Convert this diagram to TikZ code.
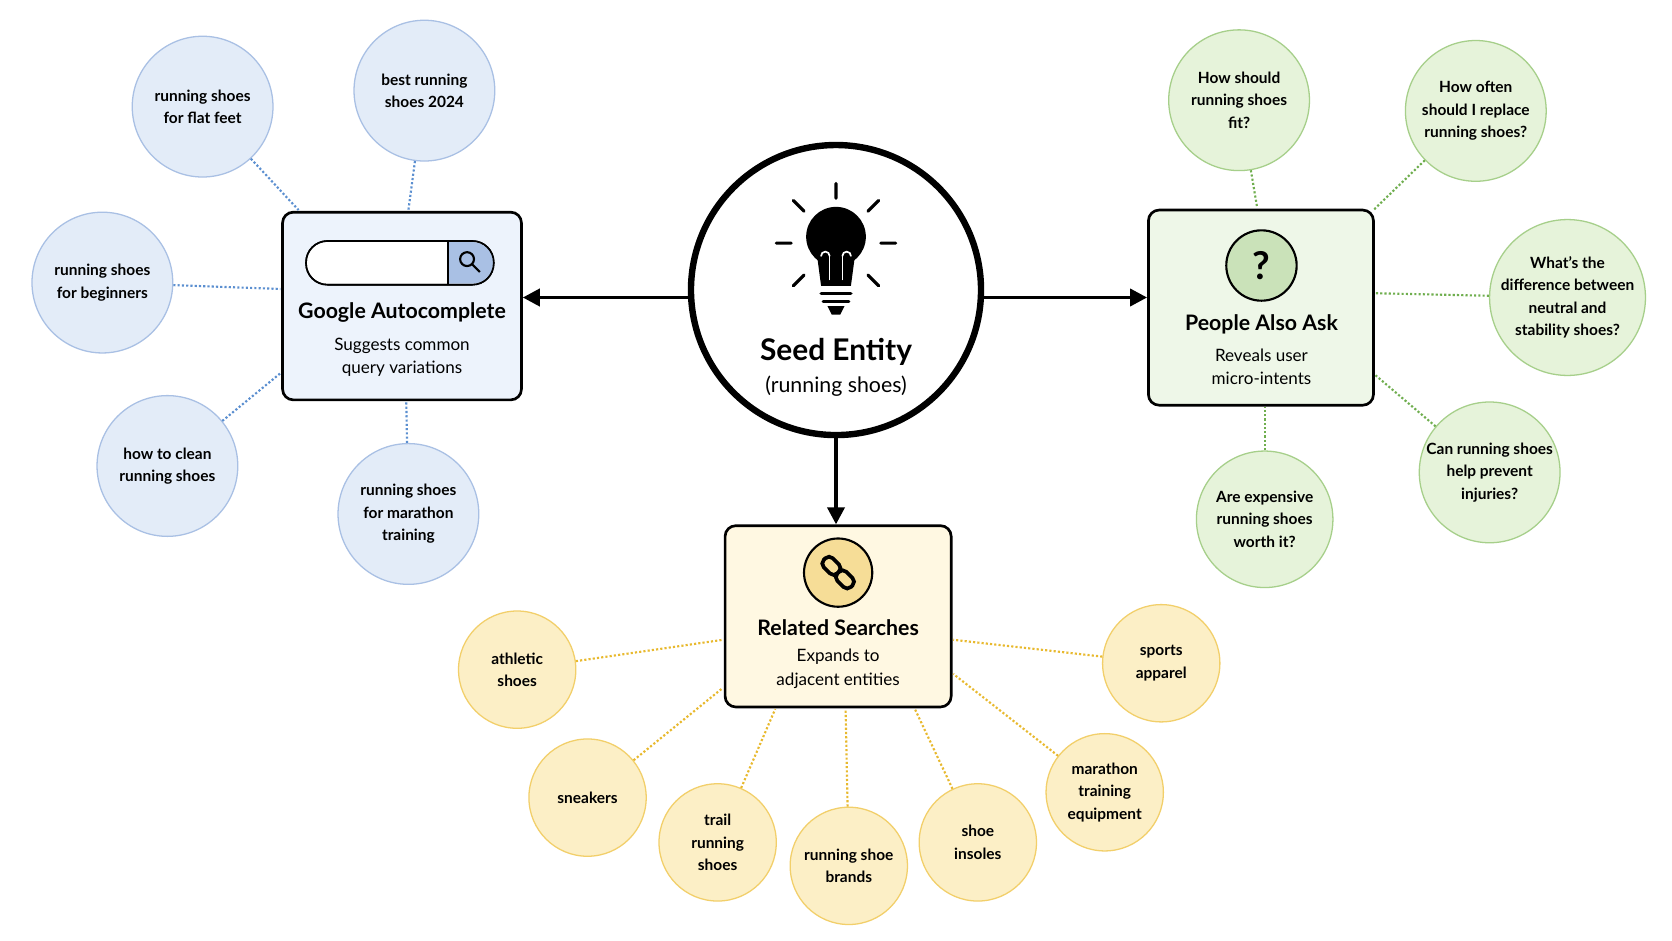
\documentclass[tikz,border=0pt]{standalone}
\usepackage{fontspec}
\setmainfont{Lato}
\usetikzlibrary{arrows.meta}
\definecolor{bfill}{HTML}{E3ECF8}\definecolor{bdraw}{HTML}{A9C0E4}\definecolor{bline}{HTML}{5B8FD0}
\definecolor{gfill}{HTML}{E6F3DA}\definecolor{gdraw}{HTML}{A6CF8A}\definecolor{gline}{HTML}{6FAE4E}
\definecolor{yfill}{HTML}{FCEFC6}\definecolor{ydraw}{HTML}{F2CF6A}\definecolor{yline}{HTML}{E8B92E}
\definecolor{bbox}{HTML}{EDF3FC}\definecolor{gbox}{HTML}{EEF7E8}\definecolor{ybox}{HTML}{FFF8E2}
\begin{document}
\begin{tikzpicture}[x=1pt,y=-1pt,
 leaf/.style={circle,draw,line width=1.2pt,align=center,inner sep=0pt,font=\fontsize{14.5}{21}\selectfont\bfseries},
 bl/.style={leaf,fill=bfill,draw=bdraw,minimum size=132pt},
 gl/.style={leaf,fill=gfill,draw=gdraw,minimum size=132pt},
 yl/.style={leaf,fill=yfill,draw=ydraw,minimum size=110pt},
 hub/.style={draw=black,line width=2.5pt,rounded corners=10pt,inner sep=0pt},
 dots/.style={line width=2pt,dotted},
 arr/.style={line width=3.5pt,-{Triangle[length=16pt,width=16pt]}},
 ttl/.style={font=\fontsize{20}{22}\selectfont\bfseries},
 sub/.style={font=\fontsize{16}{22}\selectfont,align=center}]
\useasboundingbox (0,0) rectangle (1568,882);
\fill[white] (0,0) rectangle (1568,882);
% hubs
\node[hub,fill=bbox,minimum width=224pt,minimum height=176pt] (ga) at (377,287) {};
\node[hub,fill=gbox,minimum width=211pt,minimum height=183pt] (pa) at (1182.5,288.5) {};
\node[hub,fill=ybox,minimum width=212pt,minimum height=170pt] (rs) at (786,578) {};
\node[circle,draw=black,line width=6pt,fill=white,minimum size=272pt] (seed) at (784,272) {};
% arrows
\draw[arr] (seed.west |- 0,279) -- (ga.east |- 0,279);
\draw[arr] (seed.east |- 0,279) -- (pa.west |- 0,279);
\draw[arr] (seed.south) -- (seed.south |- rs.north);
% seed content
\node[font=\fontsize{28}{30}\selectfont\bfseries] (st) at (784,330) {Seed Entity};
\node[font=\fontsize{20}{22}\selectfont] (ss) at (784,362) {(running shoes)};
\begin{scope}[line width=3pt,line cap=round]
 \draw (826,228)--(840,228) (742,228)--(728,228) (784,186)--(784,172) (814,198)--(824,188) (754,198)--(744,188) (814,258)--(824,268) (754,258)--(744,268);
 \fill (784,222) circle (28pt);
 \fill (766,238) -- (802,238) -- (798,268) -- (770,268) -- cycle;
 \draw[white,line width=1.6pt] (778,262) -- (778,240) (790,262) -- (790,240);
 \draw[white,line width=1.6pt] (778,240) arc (0:180:4pt) (790,240) arc (180:0:4pt);
 \draw[line width=3pt] (770,275) -- (798,275) (772,283) -- (796,283);
 \fill (776,287) -- (792,287) -- (788,295) -- (780,295) -- cycle;
\end{scope}
% google content
\draw[line width=1.5pt,fill=white,rounded corners=20pt] (287,226) rectangle (463,267);
\fill[bdraw] (420,227) -- (443,227) arc (90:-90:19.5pt) -- (420,266) -- cycle;
\draw[line width=1.5pt,rounded corners=20pt] (287,226) rectangle (463,267);
\draw[line width=1.5pt] (420,226) -- (420,267);
\draw[line width=2pt] (438,243) circle (6.5pt) (443,248) -- (450,255);
\node[ttl] (gt) at (377,293) {Google Autocomplete};
\node[sub] (gs) at (377,335) {Suggests common\\query variations};
% paa content
\node[circle,draw=black,line width=2pt,fill=gdraw!60,minimum size=66pt,font=\fontsize{36}{36}\selectfont\bfseries] (q) at (1183,249) {?};
\node[ttl] (pt) at (1183,304) {People Also Ask};
\node[sub] (ps) at (1183,344) {Reveals user\\micro-intents};
% related content
\node[circle,draw=black,line width=2pt,fill=ydraw!70,minimum size=64pt] (lk) at (786,537) {};
\begin{scope}[shift={(786,537)},rotate=-45,line width=3.5pt]
 \draw[rounded corners=5pt] (-18,-6) rectangle (0,6);
 \draw[rounded corners=5pt] (0,-6) rectangle (18,6);
\end{scope}
\node[ttl] (rt) at (786,589) {Related Searches};
\node[sub] (rsb) at (786,627) {Expands to\\adjacent entities};
% blue leaves
\node[bl] (b1) at (190,100) {running shoes\\for flat feet};
\node[bl] (b2) at (398,85) {best running\\shoes 2024};
\node[bl] (b3) at (96,265) {running shoes\\for beginners};
\node[bl] (b4) at (157,437) {how to clean\\running shoes};
\node[bl] (b5) at (383,482) {running shoes\\for marathon\\training};
\draw[dots,bline] (b1) -- (280,197);
\draw[dots,bline] (b2) -- (383,197);
\draw[dots,bline] (b3) -- (263,271);
\draw[dots,bline] (b4) -- (263,350);
\draw[dots,bline] (b5) -- (381,377);
% green leaves
\node[gl] (g1) at (1162,94) {How should\\running shoes\\fit?};
\node[gl] (g2) at (1384,104) {How often\\should I replace\\running shoes?};
\node[gl,minimum size=140pt] (g3) at (1470,279) {What’s the\\difference between\\neutral and\\stability shoes?};
\node[gl] (g4) at (1397,443) {Can running shoes\\help prevent\\injuries?};
\node[gl,minimum size=128pt] (g5) at (1186,487) {Are expensive\\running shoes\\worth it?};
\draw[dots,gline] (g1) -- (1179,195);
\draw[dots,gline] (g2) -- (1288,197);
\draw[dots,gline] (g3) -- (1290,275);
\draw[dots,gline] (g4) -- (1290,352);
\draw[dots,gline] (g5) -- (1186,382);
% yellow leaves
\node[yl] (y1) at (485,628) {athletic\\shoes};
\node[yl] (y2) at (551,748) {sneakers};
\node[yl] (y3) at (673,790) {trail\\running\\shoes};
\node[yl] (y4) at (796,812) {running shoe\\brands};
\node[yl] (y5) at (917,790) {shoe\\insoles};
\node[yl] (y6) at (1036,743) {marathon\\training\\equipment};
\node[yl] (y7) at (1089,622) {sports\\apparel};
\draw[dots,yline] (y1) -- (678,600);
\draw[dots,yline] (y2) -- (678,645);
\draw[dots,yline] (y3) -- (727,665);
\draw[dots,yline] (y4) -- (793,665);
\draw[dots,yline] (y5) -- (858,665);
\draw[dots,yline] (y6) -- (894,632);
\draw[dots,yline] (y7) -- (894,600);
\end{tikzpicture}
\end{document}
